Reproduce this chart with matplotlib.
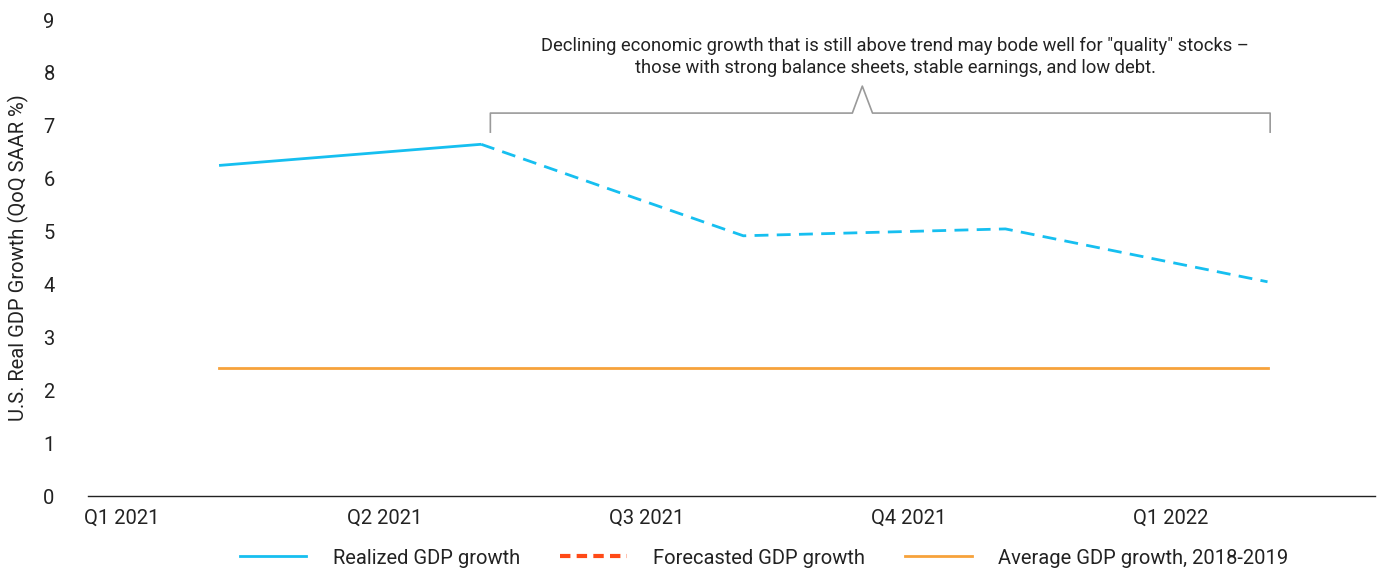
import matplotlib
matplotlib.use("Agg")
import matplotlib.pyplot as plt
from matplotlib.lines import Line2D
import numpy as np

quarters = ["Q1 2021", "Q2 2021", "Q3 2021", "Q4 2021", "Q1 2022"]
realized = [6.25, 6.65]              # Q1 2021, Q2 2021
forecast = [6.65, 4.92, 5.05, 4.05]  # Q2 2021 .. Q1 2022
average = [2.42, 2.42, 2.42, 2.42, 2.42]
yticks = [0, 1, 2, 3, 4, 5, 6, 7, 8, 9]

annotation = ('Declining economic growth that is still above trend may bode well for "quality" stocks \u2013\n'
              'those with strong balance sheets, stable earnings, and low debt.')

plt.rcParams['font.family'] = ['Roboto', 'DejaVu Sans']

BLUE = "#16BFF0"
ORANGE = "#F7A23B"
RED = "#FF4A17"
TXT = "#222222"

fig = plt.figure(figsize=(13.8, 5.71), dpi=100)
ax = fig.add_axes([88/1380, 1-496/571, (1375-88)/1380, (496-20)/571])

idx = np.arange(len(quarters))
shift = 0.37
xr = idx[:2] + shift
xf = idx[1:] + shift
ax.plot(xr, realized, color=BLUE, lw=2.0, solid_capstyle='butt')
ax.plot(xf, forecast, color=BLUE, lw=2.0, linestyle=(0, (5, 3)))
ax.plot(idx + shift, average, color=ORANGE, lw=2.0)

ax.set_xlim(-0.13, 4.78)
ax.set_ylim(0, 9)
ax.set_xticks(idx)
ax.set_xticklabels(quarters)
ax.set_yticks(yticks)
ax.tick_params(axis='both', length=0, labelsize=14.5, colors=TXT)
ax.tick_params(axis='y', pad=24)
ax.tick_params(axis='x', pad=9)
for s in ['top', 'right', 'left']:
    ax.spines[s].set_visible(False)
ax.spines['bottom'].set_color('#222222')
ax.spines['bottom'].set_linewidth(1.0)
ax.set_ylabel("U.S. Real GDP Growth (QoQ SAAR %)", fontsize=14.5, color=TXT, labelpad=10)

# bracket annotation
bx = [1.405, 1.405, 2.786, 2.824, 2.863, 4.38, 4.38]
by = [6.88, 7.24, 7.24, 7.75, 7.24, 7.24, 6.88]
ax.plot(bx, by, color="#9A9A9A", lw=1.2, clip_on=False)
ax.text(2.95, 8.3, annotation, ha='center', va='center', fontsize=13.2,
        color=TXT, linespacing=1.3)

handles = [Line2D([], [], color=BLUE, lw=2.0),
           Line2D([], [], color=RED, lw=3.0, linestyle=(0, (2.5, 1.5))),
           Line2D([], [], color=ORANGE, lw=2.0)]
labels = ["Realized GDP growth", "Forecasted GDP growth", "Average GDP growth, 2018-2019"]
fig.legend(handles, labels, loc='center', bbox_to_anchor=(764/1380, 1-558/571),
           ncol=3, frameon=False, fontsize=14.5, handlelength=3.3,
           columnspacing=2.0, handletextpad=1.3, labelcolor=TXT)

fig.savefig("out.png", dpi=100)
